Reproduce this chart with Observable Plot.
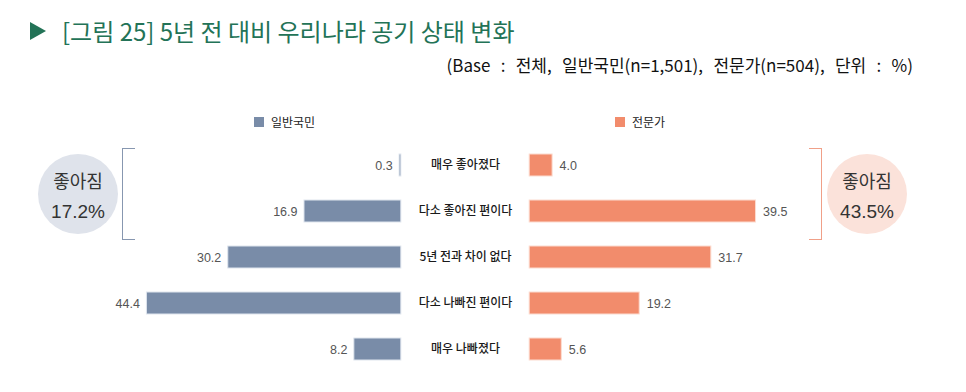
<!DOCTYPE html>
<html><head><meta charset="utf-8">
<script src="https://cdn.jsdelivr.net/npm/d3@7"></script>
<script src="https://cdn.jsdelivr.net/npm/@observablehq/plot@0.6"></script>
<style>
html,body{margin:0;padding:0;background:#fff;}
#wrap{position:relative;width:966px;height:392px;overflow:hidden;font-family:"Noto Sans CJK KR","Noto Sans",sans-serif;}
.title{position:absolute;left:30px;top:13px;color:#237357;font-size:24px;line-height:36px;white-space:nowrap;letter-spacing:0px;}
.title .tri{display:inline-block;width:0;height:0;border-top:9px solid transparent;border-bottom:9px solid transparent;border-left:16px solid #237357;margin-right:16px;vertical-align:1px;}
.sub{position:absolute;right:53px;top:53px;font-size:17px;line-height:24px;color:#111;white-space:nowrap;word-spacing:6.5px;}
.leg{position:absolute;top:113px;font-size:12px;color:#222;display:flex;align-items:center;white-space:nowrap;}
.leg i{display:inline-block;width:10px;height:10px;margin-right:7px;}
#plot{position:absolute;left:0;top:140px;}
.circle{position:absolute;width:80px;height:80px;border-radius:50%;text-align:center;color:#333;}
.circle .a{position:absolute;left:0;right:0;top:14px;font-size:18px;line-height:24px;}
.circle .b{position:absolute;left:0;right:0;top:46px;font-size:19px;line-height:24px;font-family:"Liberation Sans",Arial,sans-serif;}
.brk{position:absolute;width:12px;height:90px;top:148px;}
</style></head>
<body><div id="wrap"></div>
<script>
const categories = ["매우 좋아졌다","다소 좋아진 편이다","5년 전과 차이 없다","다소 나빠진 편이다","매우 나빠졌다"];
const publicValues = [0.3, 16.9, 30.2, 44.4, 8.2];
const expertValues = [4.0, 39.5, 31.7, 19.2, 5.6];
const groups = ["일반국민", "전문가"];
const groupColors = ["#798ca8", "#f28c6c"];
const groupStrokes = ["#dfe5ee", "#fcdcd0"];
const improvedLabel = "좋아짐";
const improvedTotals = [17.2, 43.5];
const titleText = "[그림 25] 5년 전 대비 우리나라 공기 상태 변화";
const subtitleText = "(Base : 전체, 일반국민(n=1,501), 전문가(n=504), 단위 : %)";

const GAP = 11.2; // half-width of the central label gutter, in data units
const pub = categories.map((c, i) => ({cat: c, v: publicValues[i]}));
const exp = categories.map((c, i) => ({cat: c, v: expertValues[i]}));

const wrap = document.getElementById("wrap");
wrap.innerHTML = `
<div class="title"><span class="tri"></span>${titleText}</div>
<div class="sub">${subtitleText}</div>
<div class="leg" style="left:254px"><i style="background:${groupColors[0]}"></i>${groups[0]}</div>
<div class="leg" style="left:615px"><i style="background:${groupColors[1]}"></i>${groups[1]}</div>
<div class="brk" style="left:122px;border:1.3px solid #8797b0;border-right:none;"></div>
<div class="brk" style="left:809px;border:1.3px solid #f0a088;border-left:none;"></div>
<div class="circle" style="left:38px;top:154px;background:#dfe3eb"><div class="a">${improvedLabel}</div><div class="b">${improvedTotals[0].toFixed(1)}%</div></div>
<div class="circle" style="left:827px;top:154px;background:#fbe2da"><div class="a">${improvedLabel}</div><div class="b">${improvedTotals[1].toFixed(1)}%</div></div>
<div id="plot"></div>`;

const valFont = {fill: "#555", fontSize: 12.5, fontFamily: "Liberation Sans, Arial, sans-serif"};
const chart = Plot.plot({
  width: 966, height: 233,
  marginTop: 0, marginBottom: 0, marginLeft: 0, marginRight: 0,
  x: {domain: [-81.15, 87.43], axis: null},
  y: {domain: categories, paddingInner: 0.527, paddingOuter: 0.2635, axis: null},
  marks: [
    Plot.barX(pub, {y: "cat", x1: () => -GAP, x2: d => -GAP - d.v, fill: groupColors[0], stroke: groupStrokes[0], strokeWidth: 1}),
    Plot.barX(exp, {y: "cat", x1: () => GAP, x2: d => GAP + d.v, fill: groupColors[1], stroke: groupStrokes[1], strokeWidth: 1}),
    Plot.text(pub, {y: "cat", x: d => -GAP - d.v, text: d => d.v.toFixed(1), textAnchor: "end", dx: -7, ...valFont}),
    Plot.text(exp, {y: "cat", x: d => GAP + d.v, text: d => d.v.toFixed(1), textAnchor: "start", dx: 7, ...valFont}),
    Plot.text(categories, {y: d => d, x: () => 0, text: d => d, fill: "#1a1a1a", fontSize: 12, fontWeight: 500,
      fontFamily: "Noto Sans CJK KR, sans-serif", style: "letter-spacing:-0.6px"})
  ]
});
document.getElementById("plot").appendChild(chart);
</script></body></html>
